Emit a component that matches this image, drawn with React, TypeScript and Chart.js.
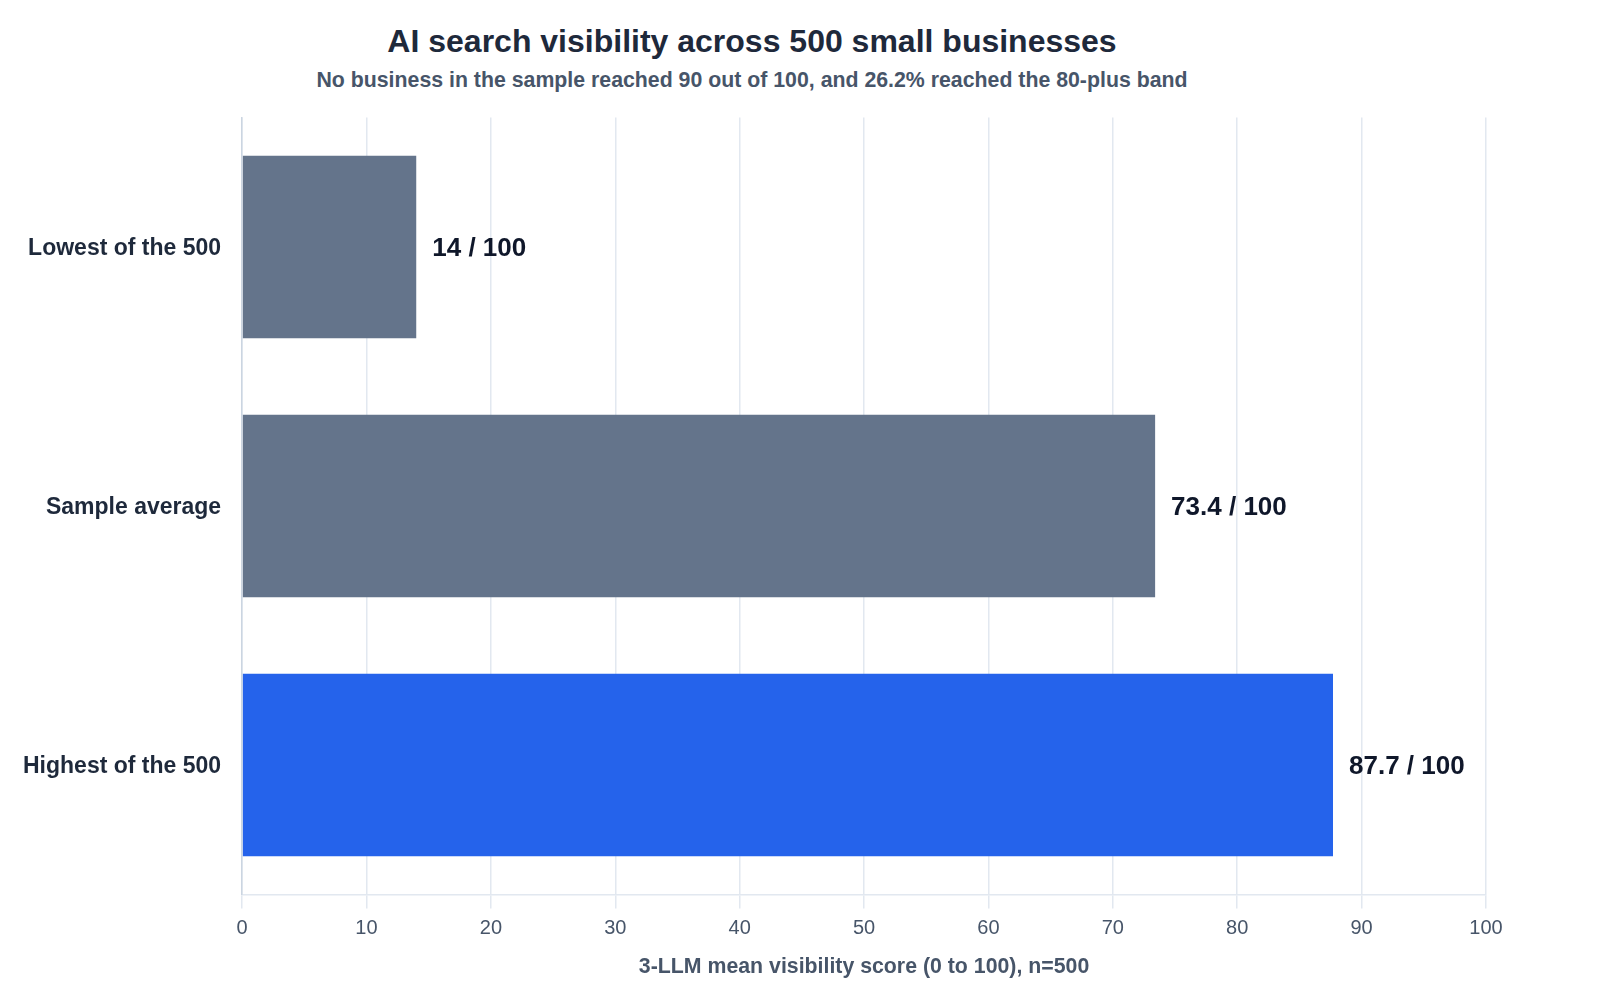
import React, { useEffect, useRef } from "react";
import { Chart, registerables } from "chart.js";

Chart.register(...registerables);

const chartTitle = "AI search visibility across 500 small businesses";
const chartSubtitle =
  "No business in the sample reached 90 out of 100, and 26.2% reached the 80-plus band";
const categories = ["Lowest of the 500", "Sample average", "Highest of the 500"];
const scores = [14, 73.4, 87.7];
const scoreMax = 100;
const xAxisTitle = "3-LLM mean visibility score (0 to 100), n=500";

const FONT = '"Liberation Sans", Arial, Helvetica, sans-serif';
const SLATE = "#64748b";
const BLUE = "#2563eb";

const valueLabelPlugin = {
  id: "valueLabels",
  afterDatasetsDraw(chart: any) {
    const { ctx } = chart;
    const meta = chart.getDatasetMeta(0);
    const data = chart.data.datasets[0].data as number[];
    ctx.save();
    ctx.font = `bold 26px ${FONT}`;
    ctx.fillStyle = "#0f172a";
    ctx.textAlign = "left";
    ctx.textBaseline = "middle";
    meta.data.forEach((bar: any, i: number) => {
      ctx.fillText(`${data[i]} / ${scoreMax}`, bar.x + 16, bar.y + 2);
    });
    ctx.restore();
  },
};

export default function App() {
  const canvasRef = useRef<HTMLCanvasElement | null>(null);

  useEffect(() => {
    if (!canvasRef.current) return;
    const topIndex = scores.indexOf(Math.max(...scores));
    const chart = new Chart(canvasRef.current, {
      type: "bar",
      data: {
        labels: categories,
        datasets: [
          {
            data: scores,
            backgroundColor: (c: any) => (c.dataIndex === topIndex ? BLUE : SLATE),
            borderWidth: 0,
            barPercentage: 0.705,
            categoryPercentage: 1,
          },
        ],
      },
      options: {
        indexAxis: "y",
        animation: false,
        responsive: false,
        maintainAspectRatio: false,
        devicePixelRatio: 1,
        layout: {
          autoPadding: false,
          padding: { left: -6, right: 106, top: 24.5, bottom: 0.5 },
        },
        plugins: {
          legend: { display: false },
          tooltip: { enabled: false },
          title: { display: false },
        },
        scales: {
          x: {
            min: 0,
            max: scoreMax,
            ticks: {
              stepSize: 10,
              color: "#475569",
              font: { family: FONT, size: 20 },
              padding: 8.5,
            },
            grid: { color: "#e2e8f0", lineWidth: 1.5, tickLength: 14 },
            border: { color: "#e2e8f0", width: 1.5 },
            title: {
              display: true,
              text: xAxisTitle,
              color: "#475569",
              font: { family: FONT, size: 21.3, weight: "bold" },
              padding: { top: 4.5, bottom: 4 },
            },
          },
          y: {
            ticks: {
              color: "#1e293b",
              font: { family: FONT, size: 23, weight: "bold" },
              padding: 21,
              labelOffset: 2,
            },
            grid: { display: false, drawTicks: false },
            border: { color: "#cbd5e1", width: 1.5 },
            afterFit: (scale: any) => {
              scale.paddingTop = 0;
              scale.paddingBottom = 0;
            },
          },
        },
      },
      plugins: [valueLabelPlugin],
    });
    return () => chart.destroy();
  }, []);

  return (
    <div style={{ width: 1584, paddingTop: 13, fontFamily: FONT }}>
      <div style={{ width: 1488, textAlign: "center" }}>
        <div
          style={{
            fontSize: 32,
            fontWeight: "bold",
            lineHeight: "40px",
            height: 40,
            color: "#1e293b",
          }}
        >
          {chartTitle}
        </div>
        <div
          style={{
            fontSize: 21.3,
            fontWeight: "bold",
            lineHeight: "26px",
            height: 26,
            marginTop: 6,
            color: "#475569",
          }}
        >
          {chartSubtitle}
        </div>
      </div>
      <canvas
        ref={canvasRef}
        width={1584}
        height={891}
        style={{ display: "block", width: 1584, height: 891 }}
      />
    </div>
  );
}
